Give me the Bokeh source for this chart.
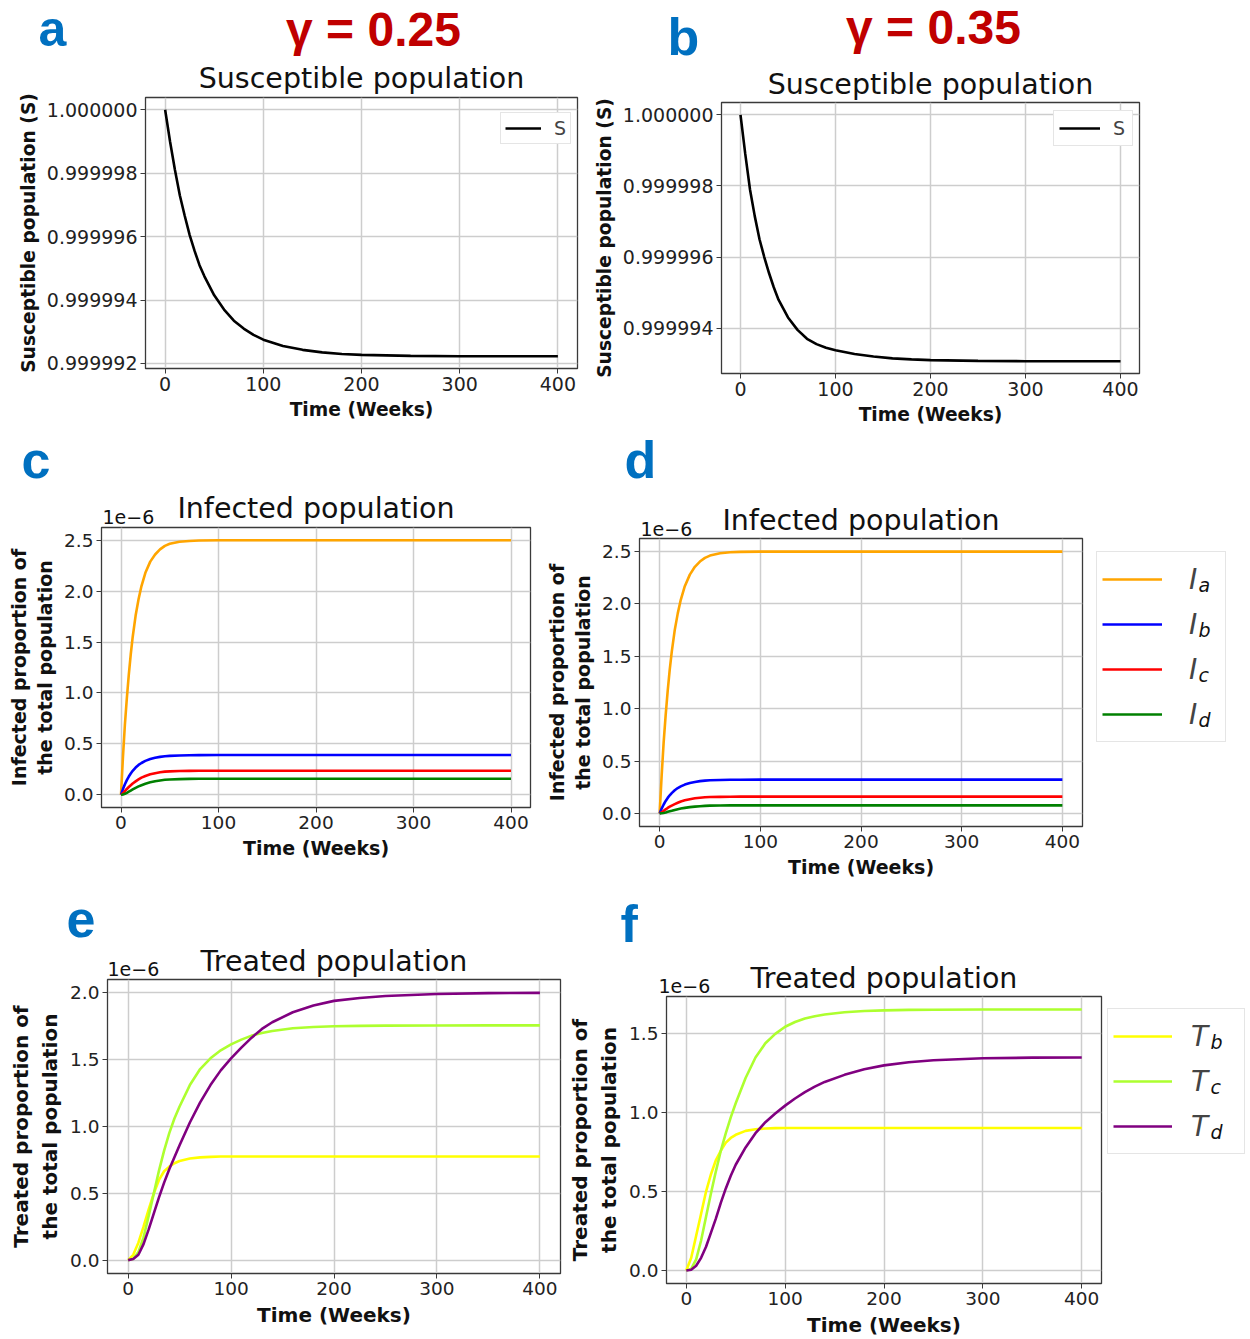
from bokeh.plotting import figure
from bokeh.models import Range1d, PrintfTickFormatter, Label, Legend, LegendItem
from bokeh.embed import file_html
from bokeh.resources import INLINE
from bokeh.core.properties import value

# ---------------- data ----------------
x_ticks = [0, 100, 200, 300, 400]

weeks_S = [0, 5, 10, 15, 20, 25, 30, 35, 40, 50, 60, 70, 80, 90, 100, 120, 140,
           160, 180, 200, 250, 300, 350, 400]
S_g025 = [1.0, 0.999999, 0.9999981, 0.9999973, 0.99999665, 0.99999605, 0.99999555,
          0.9999951, 0.99999475, 0.99999415, 0.9999937, 0.99999335, 0.9999931,
          0.9999929, 0.99999275, 0.99999255, 0.99999243, 0.99999235, 0.9999923,
          0.99999227, 0.99999224, 0.99999223, 0.99999223, 0.99999223]
S_g035 = [1.0, 0.9999989, 0.9999979, 0.99999715, 0.9999965, 0.999996, 0.99999555,
          0.99999515, 0.9999948, 0.9999943, 0.99999395, 0.9999937, 0.99999355,
          0.99999345, 0.99999338, 0.99999327, 0.9999932, 0.99999315, 0.99999312,
          0.9999931, 0.99999308, 0.99999307, 0.99999307, 0.99999307]
yticks_S025 = [0.999992, 0.999994, 0.999996, 0.999998, 1.0]
yticks_S035 = [0.999994, 0.999996, 0.999998, 1.0]

# infected proportions, in units of 1e-6
weeks_I = [0, 2, 4, 6, 8, 10, 12, 15, 18, 21, 25, 30, 35, 40, 45, 50, 60, 70, 80,
           100, 150, 200, 300, 400]
Ia_g025 = [0, 0.37, 0.69, 0.95, 1.18, 1.38, 1.55, 1.76, 1.92, 2.05, 2.18, 2.29, 2.36,
           2.41, 2.445, 2.465, 2.485, 2.493, 2.497, 2.5, 2.5, 2.5, 2.5, 2.5]
Ib_g025 = [0, 0.056, 0.103, 0.144, 0.179, 0.209, 0.235, 0.267, 0.293, 0.312, 0.333,
           0.351, 0.363, 0.372, 0.378, 0.382, 0.386, 0.388, 0.389, 0.39, 0.39, 0.39,
           0.39, 0.39]
Ic_g025 = [0, 0.014, 0.035, 0.057, 0.076, 0.094, 0.111, 0.132, 0.151, 0.168, 0.184,
           0.201, 0.212, 0.221, 0.227, 0.23, 0.233, 0.235, 0.236, 0.236, 0.236, 0.236,
           0.236, 0.236]
Id_g025 = [0, 0.003, 0.009, 0.019, 0.03, 0.041, 0.052, 0.068, 0.082, 0.094, 0.108,
           0.122, 0.133, 0.141, 0.147, 0.15, 0.154, 0.156, 0.157, 0.157, 0.157, 0.157,
           0.157, 0.157]
Ia_g035 = [0, 0.36, 0.68, 0.94, 1.17, 1.37, 1.54, 1.75, 1.91, 2.04, 2.17, 2.28, 2.355,
           2.405, 2.44, 2.462, 2.484, 2.493, 2.497, 2.5, 2.5, 2.5, 2.5, 2.5]
Ib_g035 = [0, 0.046, 0.085, 0.119, 0.148, 0.173, 0.194, 0.221, 0.242, 0.258, 0.275,
           0.29, 0.3, 0.308, 0.313, 0.316, 0.319, 0.321, 0.322, 0.3225, 0.3225, 0.3225,
           0.3225, 0.3225]
Ic_g035 = [0, 0.009, 0.024, 0.039, 0.052, 0.064, 0.075, 0.089, 0.102, 0.114, 0.125,
           0.136, 0.144, 0.15, 0.154, 0.156, 0.158, 0.159, 0.16, 0.16, 0.16, 0.16,
           0.16, 0.16]
Id_g035 = [0, 0.0015, 0.0045, 0.009, 0.015, 0.02, 0.025, 0.033, 0.04, 0.046, 0.053,
           0.06, 0.065, 0.069, 0.072, 0.074, 0.0755, 0.0765, 0.077, 0.077, 0.077,
           0.077, 0.077, 0.077]
yticks_I = [0, 0.5, 1.0, 1.5, 2.0, 2.5]

# treated proportions, in units of 1e-6
weeks_T = [0, 5, 10, 15, 20, 25, 30, 35, 40, 45, 50, 60, 70, 80, 90, 100, 110, 120,
           130, 140, 160, 180, 200, 225, 250, 300, 350, 400]
Tb_g025 = [0, 0.04, 0.13, 0.25, 0.38, 0.5, 0.6, 0.665, 0.7, 0.725, 0.742, 0.76, 0.769,
           0.773, 0.775, 0.776, 0.776, 0.776, 0.776, 0.776, 0.776, 0.776, 0.776, 0.776,
           0.776, 0.776, 0.776, 0.776]
Tc_g025 = [0, 0.01, 0.06, 0.17, 0.33, 0.5, 0.67, 0.82, 0.95, 1.06, 1.15, 1.31, 1.43,
           1.51, 1.57, 1.615, 1.65, 1.68, 1.7, 1.715, 1.735, 1.745, 1.75, 1.753, 1.755,
           1.756, 1.757, 1.757]
Td_g025 = [0, 0.008, 0.04, 0.12, 0.23, 0.35, 0.47, 0.58, 0.68, 0.77, 0.86, 1.03, 1.18,
           1.31, 1.42, 1.51, 1.59, 1.665, 1.73, 1.78, 1.855, 1.905, 1.94, 1.962, 1.977,
           1.992, 1.998, 2.0]
Tb_g035 = [0, 0.08, 0.22, 0.36, 0.5, 0.61, 0.7, 0.76, 0.81, 0.84, 0.86, 0.885, 0.895,
           0.9, 0.902, 0.903, 0.903, 0.903, 0.903, 0.903, 0.903, 0.903, 0.903, 0.903,
           0.903, 0.903, 0.903, 0.903]
Tc_g035 = [0, 0.01, 0.07, 0.19, 0.34, 0.49, 0.63, 0.76, 0.87, 0.97, 1.06, 1.22, 1.35,
           1.44, 1.5, 1.545, 1.575, 1.597, 1.612, 1.623, 1.637, 1.645, 1.649, 1.652,
           1.653, 1.654, 1.654, 1.654]
Td_g035 = [0, 0.005, 0.03, 0.08, 0.15, 0.24, 0.33, 0.43, 0.52, 0.6, 0.67, 0.78, 0.87,
           0.94, 0.995, 1.045, 1.09, 1.13, 1.165, 1.195, 1.24, 1.275, 1.3, 1.32, 1.333,
           1.345, 1.349, 1.35]
yticks_Te = [0, 0.5, 1.0, 1.5, 2.0]
yticks_Tf = [0, 0.5, 1.0, 1.5]

infected_colors = ["orange", "blue", "red", "green"]
treated_colors = ["yellow", "greenyellow", "purple"]
infected_subs = ["a", "b", "c", "d"]
treated_subs = ["b", "c", "d"]

# ---------------- styling ----------------
FONT = "DejaVu Sans"
LETTER_FONT = "Liberation Sans"
BLUE = "#0070C0"
RED = "#C00000"
DARK = "#3a3a3a"
PAGE_W, PAGE_H = 1250, 1339
LW = 2.6
MID = 0.347  # distance from the text middle to the baseline, in em


def padded(*series):
    lo = min(min(s) for s in series)
    hi = max(max(s) for s in series)
    m = 0.05 * (hi - lo)
    return lo - m, hi + m


def make_fig(page_x, page_y, width, height, left, right, top, bottom, title,
             title_standoff, ylabel, label_size, tick_size, xs, ys_all, yticks, yfmt):
    x0, x1 = padded(xs)
    y0, y1 = padded(*ys_all)
    p = figure(width=width, height=height, output_backend="svg", toolbar_location=None,
               min_border_left=left, min_border_right=width - right,
               min_border_top=top, min_border_bottom=height - bottom,
               x_range=Range1d(x0, x1), y_range=Range1d(y0, y1),
               styles={"position": "absolute", "left": f"{page_x}px",
                       "top": f"{page_y}px"})
    p.background_fill_color = "white"
    p.border_fill_color = "white"
    p.xaxis.axis_label = "Time (Weeks)"
    p.yaxis.axis_label = ylabel
    p.xaxis.ticker = x_ticks
    p.yaxis.ticker = yticks
    p.yaxis.formatter = PrintfTickFormatter(format=yfmt)
    for ax in p.axis:
        ax.axis_label_text_font = FONT
        ax.axis_label_text_font_style = "bold"
        ax.axis_label_text_font_size = label_size
        ax.axis_label_text_color = "#111111"
        ax.major_label_text_font = FONT
        ax.major_label_text_font_size = tick_size
        ax.major_label_text_color = "#222222"
        ax.major_tick_out = 5
        ax.major_tick_in = 0
        ax.minor_tick_out = 0
        ax.minor_tick_in = 0
        ax.axis_line_color = DARK
        ax.major_tick_line_color = DARK
        ax.major_label_standoff = 3
        ax.axis_label_standoff = 5
    p.grid.grid_line_color = "#cdcdcd"
    p.grid.grid_line_width = 1.5
    p.outline_line_color = DARK
    p.outline_line_width = 1.3
    p.title.text = title
    p.title.align = "center"
    p.title.text_font = FONT
    p.title.text_font_size = "28.5px"
    p.title.text_font_style = "normal"
    p.title.text_color = "#111111"
    p.title.standoff = title_standoff
    return p


def s_legend(p, r, loc, pad, gw, gh, standoff, lw):
    leg = Legend(items=[LegendItem(label=value("S"), renderers=[r])], location=loc,
                 padding=pad, spacing=0, margin=0, glyph_width=gw, glyph_height=gh,
                 label_height=gh, label_width=lw, label_standoff=standoff,
                 label_text_font=FONT, label_text_font_size="19px",
                 border_line_color="#cccccc", border_line_width=1.2,
                 background_fill_color="white", background_fill_alpha=1.0)
    p.add_layout(leg)


# ---------------- overlay for everything that sits outside the frames ----------------
ov = figure(width=PAGE_W, height=PAGE_H, output_backend="svg", toolbar_location=None,
            x_axis_type=None, y_axis_type=None, min_border_left=0, min_border_right=0,
            min_border_top=0, min_border_bottom=0,
            x_range=Range1d(0, PAGE_W), y_range=Range1d(0, PAGE_H),
            styles={"position": "absolute", "left": "0px", "top": "0px"})
ov.background_fill_color = None
ov.border_fill_color = None
ov.outline_line_color = None


def ov_text(text, px, baseline, size, color="#111111", font=FONT, style="normal",
            align="left"):
    # (px, baseline) are page pixels from the top-left corner
    ov.add_layout(Label(x=px, y=PAGE_H - (baseline - MID * size), x_units="screen",
                        y_units="screen", text=text, text_font=font,
                        text_font_size=f"{size}px", text_color=color,
                        text_font_style=style, text_align=align,
                        text_baseline="middle", level="overlay"))


def outside_legend(series_x, series, colors, main, subs, box_left, box_bottom, pad,
                   gw, gh, sp, standoff, lw, sub_x):
    # legend lines come from (hidden) copies of the panel's series
    rs = [ov.line(series_x, ys, line_color=c, line_width=LW, visible=False)
          for ys, c in zip(series, colors)]
    items = [LegendItem(label=value(main), renderers=[r]) for r in rs]
    # transparent box (the page behind it is white) so the subscripts show through
    leg = Legend(items=items, location=(box_left, PAGE_H - box_bottom), padding=pad,
                 spacing=sp, margin=0, glyph_width=gw, glyph_height=gh,
                 label_height=gh, label_width=lw, label_standoff=standoff,
                 label_text_font=FONT, label_text_font_size="28px",
                 label_text_font_style="italic", border_line_color="#cccccc",
                 border_line_width=1.2, background_fill_color=None,
                 background_fill_alpha=0.0)
    ov.add_layout(leg)
    n = len(series)
    box_top = box_bottom - (2 * pad + n * gh + (n - 1) * sp)
    for i, s in enumerate(subs):
        cy = box_top + pad + gh / 2 + i * (gh + sp)
        ov_text(s, sub_x, cy + 11, 19, style="italic")


# ---------------- panel a ----------------
pa = make_fig(0, 0, 590, 440, 145, 577, 97, 368, "Susceptible population", 5,
              "Susceptible population (S)", "18.7px", "19px", weeks_S, [S_g025],
              yticks_S025, "%.6f")
ra = pa.line(weeks_S, S_g025, line_color="black", line_width=LW)
s_legend(pa, ra, (355, 224), 4, 36, 20, 13, 12)
ov_text("a", 38, 46, 50, color=BLUE, font=LETTER_FONT, style="bold")
ov_text("γ = 0.25", 373, 46, 48, color=RED, font=LETTER_FONT, style="bold",
        align="center")

# ---------------- panel b ----------------
pb = make_fig(590, 0, 660, 440, 129, 549, 102, 373, "Susceptible population", 3,
              "Susceptible population (S)", "18.7px", "19px", weeks_S, [S_g035],
              yticks_S035, "%.6f")
rb = pb.line(weeks_S, S_g035, line_color="black", line_width=LW)
s_legend(pb, rb, (332, 227), 5, 41, 24, 13, 14)
ov_text("b", 667, 55, 52, color=BLUE, font=LETTER_FONT, style="bold")
ov_text("γ = 0.35", 933, 44, 48, color=RED, font=LETTER_FONT, style="bold",
        align="center")

# ---------------- panel c ----------------
inf_label = "Infected proportion of\nthe total population"
pc = make_fig(0, 440, 540, 445, 101, 530, 87, 367, "Infected population", 5,
              inf_label, "19px", "18.5px", weeks_I,
              [Ia_g025, Ib_g025, Ic_g025, Id_g025], yticks_I, "%.1f")
for ys, col in zip([Ia_g025, Ib_g025, Ic_g025, Id_g025], infected_colors):
    pc.line(weeks_I, ys, line_color=col, line_width=LW)
ov_text("c", 21, 478, 52, color=BLUE, font=LETTER_FONT, style="bold")
ov_text("1e\u22126", 102, 523, 19)

# ---------------- panel d ----------------
pd_ = make_fig(540, 440, 710, 445, 99, 542, 98, 386, "Infected population", 3,
               inf_label, "19px", "18.5px", weeks_I,
               [Ia_g035, Ib_g035, Ic_g035, Id_g035], yticks_I, "%.1f")
for ys, col in zip([Ia_g035, Ib_g035, Ic_g035, Id_g035], infected_colors):
    pd_.line(weeks_I, ys, line_color=col, line_width=LW)
ov_text("d", 624, 478, 52, color=BLUE, font=LETTER_FONT, style="bold")
ov_text("1e\u22126", 640, 535, 19)

# ---------------- panel e ----------------
trt_label = "Treated proportion of\nthe total population"
pe = make_fig(0, 885, 565, 454, 107, 560, 94, 388, "Treated population", 3,
              trt_label, "20px", "18.5px", weeks_T, [Tb_g025, Tc_g025, Td_g025],
              yticks_Te, "%.1f")
for ys, col in zip([Tb_g025, Tc_g025, Td_g025], treated_colors):
    pe.line(weeks_T, ys, line_color=col, line_width=LW)
ov_text("e", 66, 937, 52, color=BLUE, font=LETTER_FONT, style="bold")
ov_text("1e\u22126", 107, 975, 19)

# ---------------- panel f ----------------
pf = make_fig(565, 885, 685, 454, 92, 536, 111, 398, "Treated population", 4,
              trt_label, "20px", "18.5px", weeks_T, [Tb_g035, Tc_g035, Td_g035],
              yticks_Tf, "%.1f")
for ys, col in zip([Tb_g035, Tc_g035, Td_g035], treated_colors):
    pf.line(weeks_T, ys, line_color=col, line_width=LW)
ov_text("f", 620, 942, 52, color=BLUE, font=LETTER_FONT, style="bold")
ov_text("1e\u22126", 658, 992, 19)

# legends outside the frames of d and f
outside_legend(weeks_I, [Ia_g035, Ib_g035, Ic_g035, Id_g035], infected_colors, "I",
               infected_subs, 1096, 742, 5, 60, 44, 1, 27, 31, 1198)
outside_legend(weeks_T, [Tb_g035, Tc_g035, Td_g035], treated_colors, "T",
               treated_subs, 1107, 1154, 5, 59, 44, 1, 19, 48, 1210)

roots = [pa, pb, pc, pd_, pe, pf, ov]
open("out.html", "w").write(file_html(roots, INLINE))
